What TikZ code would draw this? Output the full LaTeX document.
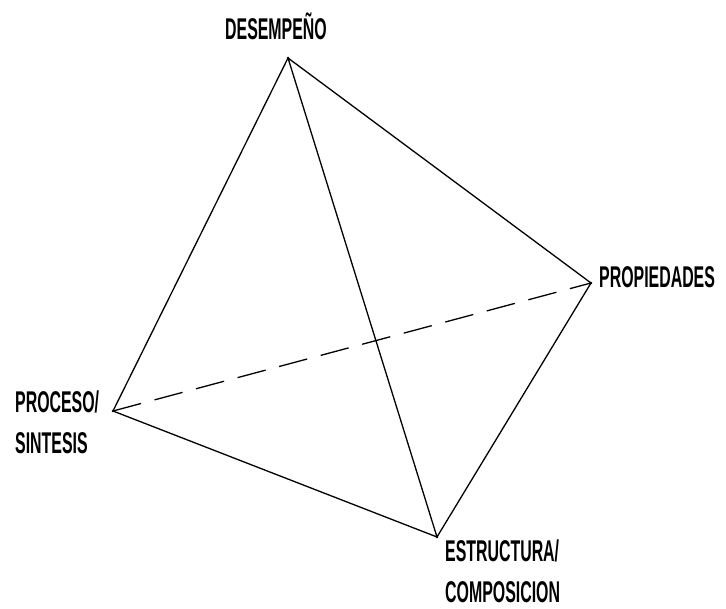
\documentclass[tikz,border=0pt]{standalone}
\usepackage{fontspec}
\newfontfamily\tetrafont{Liberation Sans}
\usetikzlibrary{positioning}

\begin{document}
\begin{tikzpicture}[
        x=1pt, y=-1pt,
        edge/.style={line width=1.3pt, line join=round},
        hidden/.style={edge, dash pattern=on 29pt off 14pt},
        vertex/.style={circle, fill, inner sep=0pt, minimum size=2.8pt},
        corner/.style={inner sep=0pt, anchor=base west, align=left,
            font=\tetrafont\bfseries\fontsize{30}{41}\selectfont},
    ]
        \useasboundingbox (0,0) rectangle (726,609);
        % Vertices
        \node[vertex] (top) at (288, 58) {};
        \node[vertex] (right) at (591, 283) {};
        \node[vertex] (left) at (113, 411) {};
        \node[vertex] (bottom) at (437, 537) {};

        % Labels
        \node[corner] (desempeno) at (225, 40) {\scalebox{0.53}[1]{DESEMPEÑO}};
        \node[corner] (propiedades) at (599, 288) {\scalebox{0.53}[1]{PROPIEDADES}};
        \node[corner] (proceso) at (15, 454) {\scalebox{0.53}[1]{PROCESO/}\\\scalebox{0.53}[1]{SINTESIS}};
        \node[corner] (estructura) at (445, 602) {\scalebox{0.53}[1]{ESTRUCTURA/}\\\scalebox{0.53}[1]{COMPOSICION}};

        % Edges
        \draw[edge] (top.center) -- (right.center) -- (bottom.center) -- (left.center) -- (top.center) -- (bottom.center);
        \draw[hidden] (left.center) -- (right.center);
    \end{tikzpicture}
\end{document}
